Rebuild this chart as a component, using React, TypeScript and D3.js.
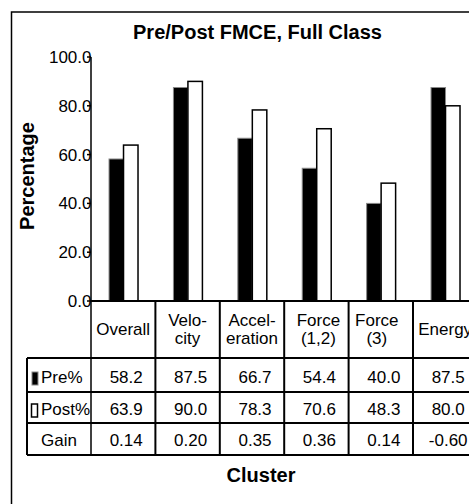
import React from 'react';
import * as d3 from 'd3';

const categories = ['Overall', 'Velocity', 'Acceleration', 'Force (1,2)', 'Force (3)', 'Energy'];
const headerLines = [['Overall'], ['Velo-', 'city'], ['Accel-', 'eration'], ['Force', '(1,2)'], ['Force', '(3)'], ['Energy']];
const preValues = [58.2, 87.5, 66.7, 54.4, 40.0, 87.5];
const postValues = [63.9, 90.0, 78.3, 70.6, 48.3, 80.0];
const gainValues = [0.14, 0.2, 0.35, 0.36, 0.14, -0.6];
const yTicks = [0, 20, 40, 60, 80, 100];

const W = 469;
const H = 504;
const font = 'Arial, "Liberation Sans", sans-serif';

export default function App() {
  // plot area
  const left = 91;
  const top = 57;
  const bottom = 301;
  const tableLeft = 27;
  const rows = [301, 358, 392, 423, 455];

  const x = d3.scaleBand<string>().domain(categories).range([left, left + 64.4 * 6]).padding(0);
  const bw = x.bandwidth();
  const inner = d3.scaleBand<string>().domain(['pre', 'post']).range([bw * 0.28, bw * 0.73]).padding(0);
  const y = d3.scaleLinear().domain([0, 100]).range([bottom, top]);
  const right = left + bw * 6;

  return (
    <svg
      width={W}
      height={H}
      style={{ position: 'absolute', left: 0, top: 0, background: '#fff' }}
      fontFamily={font}
    >
      <rect x={0} y={0} width={W} height={H} fill="#fff" />
      <rect x={11.5} y={12} width={600} height={700} fill="none" stroke="#000" strokeWidth={1.5} />

      <text x={257.5} y={39} textAnchor="middle" fontSize={20} fontWeight="bold">
        Pre/Post FMCE, Full Class
      </text>
      <text transform="translate(34,176) rotate(-90)" textAnchor="middle" fontSize={20} fontWeight="bold">
        Percentage
      </text>
      <text x={261} y={482} textAnchor="middle" fontSize={20} fontWeight="bold">
        Cluster
      </text>

      {/* bars */}
      {categories.map((c, i) => (
        <g key={c} transform={`translate(${x(c)},0)`}>
          <rect
            x={inner('pre')}
            y={y(preValues[i])}
            width={inner.bandwidth()}
            height={y(0) - y(preValues[i])}
            fill="#000"
            stroke="#888"
            strokeWidth={1}
          />
          <rect
            x={inner('post')}
            y={y(postValues[i])}
            width={inner.bandwidth()}
            height={y(0) - y(postValues[i])}
            fill="#fff"
            stroke="#000"
            strokeWidth={1.5}
          />
        </g>
      ))}

      {/* y axis */}
      <line x1={left} x2={left} y1={top} y2={rows[4]} stroke="#000" strokeWidth={1.5} />
      {yTicks.map((t) => (
        <g key={t}>
          <line x1={left - 4} x2={left} y1={y(t)} y2={y(t)} stroke="#000" strokeWidth={1.5} />
          <text x={left + 0.5} y={y(t)} dy="0.35em" textAnchor="end" fontSize={17}>
            {t.toFixed(1)}
          </text>
        </g>
      ))}

      {/* table grid */}
      <line x1={left} x2={right} y1={rows[0]} y2={rows[0]} stroke="#000" strokeWidth={2} />
      {rows.slice(1).map((r) => (
        <line key={r} x1={tableLeft} x2={right} y1={r} y2={r} stroke="#000" strokeWidth={2} />
      ))}
      <line x1={tableLeft} x2={tableLeft} y1={rows[1]} y2={rows[4]} stroke="#000" strokeWidth={2} />
      {categories.map((c) => (
        <line
          key={c}
          x1={(x(c) as number) + bw}
          x2={(x(c) as number) + bw}
          y1={rows[0]}
          y2={rows[4]}
          stroke="#000"
          strokeWidth={2}
        />
      ))}

      {/* header row */}
      {categories.map((c, i) => {
        const cx = (x(c) as number) + bw / 2 + (i === 4 ? -4 : i === 3 ? 2 : 0);
        const lines = headerLines[i];
        const base = lines.length === 1 ? [335] : [326, 344];
        return (
          <g key={c}>
            {lines.map((l, j) => (
              <text key={j} x={cx} y={base[j]} textAnchor="middle" fontSize={17}>
                {l}
              </text>
            ))}
          </g>
        );
      })}

      {/* legend column */}
      <rect x={32} y={372} width={6} height={13} fill="#000" stroke="#888" strokeWidth={1} />
      <text x={41} y={383} fontSize={17}>Pre%</text>
      <rect x={31.5} y={404} width={6} height={13} fill="#fff" stroke="#000" strokeWidth={1.5} />
      <text x={41} y={415} fontSize={17}>Post%</text>
      <text x={(tableLeft + left) / 2} y={446} textAnchor="middle" fontSize={17}>Gain</text>

      {/* values */}
      {categories.map((c, i) => {
        const cx = (x(c) as number) + bw / 2 + 3;
        return (
          <g key={c}>
            <text x={cx} y={383} textAnchor="middle" fontSize={17}>{preValues[i].toFixed(1)}</text>
            <text x={cx} y={415} textAnchor="middle" fontSize={17}>{postValues[i].toFixed(1)}</text>
            <text x={cx} y={446} textAnchor="middle" fontSize={17}>{gainValues[i].toFixed(2)}</text>
          </g>
        );
      })}
    </svg>
  );
}
